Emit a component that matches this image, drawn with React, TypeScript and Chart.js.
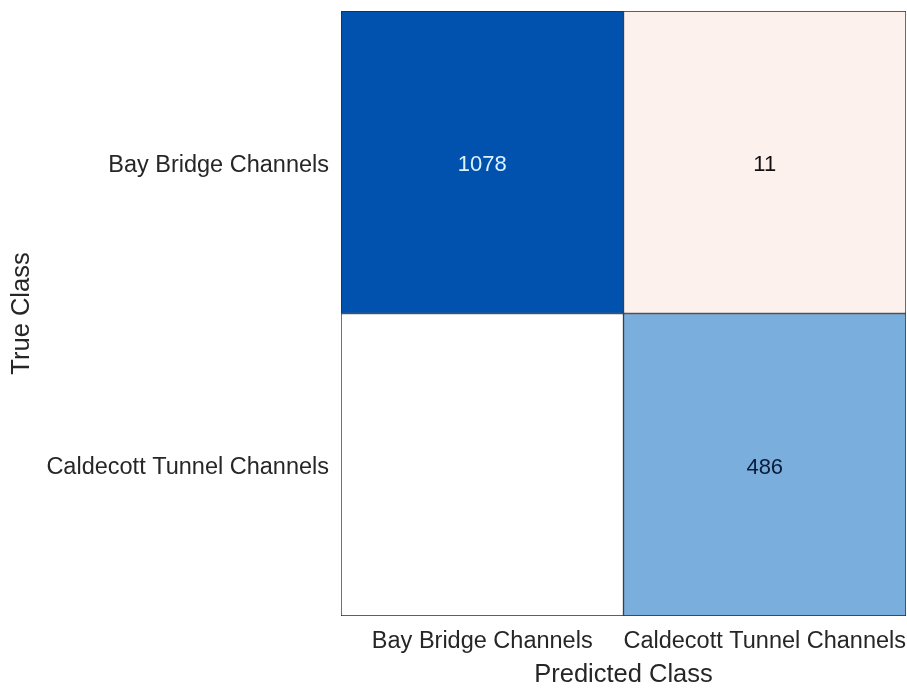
import React, { useEffect, useRef } from "react";
import { Chart, registerables } from "chart.js";

Chart.register(...registerables);

const predictedClasses = ["Bay Bridge Channels", "Caldecott Tunnel Channels"];
const trueClasses = ["Bay Bridge Channels", "Caldecott Tunnel Channels"];
const rowBayBridge = [1078, 11];
const rowCaldecott = [0, 486];
const rowBayBridgeColors = ["#0052AE", "#FDF1EE"];
const rowCaldecottColors = ["#FFFFFF", "#7AAEDC"];
const rowBayBridgeTextColors = ["#DDF2FF", "#111111"];
const rowCaldecottTextColors = ["#111111", "#0B1B3A"];

const FONT = "'Liberation Sans', Arial, Helvetica, sans-serif";

export default function App() {
  const ref = useRef<HTMLCanvasElement | null>(null);

  useEffect(() => {
    document.body.style.margin = "0";
    const canvas = ref.current;
    if (!canvas) return;

    const rows = [rowBayBridge, rowCaldecott];
    const rowColors = [rowBayBridgeColors, rowCaldecottColors];
    const rowText = [rowBayBridgeTextColors, rowCaldecottTextColors];

    const datasets = rows.map((vals, r) => ({
      label: trueClasses[r],
      data: vals.map(() => [r, r + 1] as [number, number]),
      counts: vals,
      textColors: rowText[r],
      backgroundColor: rowColors[r],
      borderColor: "#2A2A2A",
      borderWidth: 1,
      borderSkipped: false as const,
      grouped: false,
      barPercentage: 1,
      categoryPercentage: 1,
    }));

    const valueLabels = {
      id: "valueLabels",
      afterDatasetsDraw(chart: any) {
        const ctx = chart.ctx;
        ctx.save();
        ctx.font = `22px ${FONT}`;
        ctx.textAlign = "center";
        ctx.textBaseline = "middle";
        chart.data.datasets.forEach((ds: any, di: number) => {
          const meta = chart.getDatasetMeta(di);
          meta.data.forEach((el: any, i: number) => {
            const v = ds.counts[i];
            if (!v) return;
            const p = el.getCenterPoint();
            ctx.fillStyle = ds.textColors[i];
            ctx.fillText(String(v), p.x, p.y + 3);
          });
        });
        ctx.restore();
      },
    };

    const chart = new Chart(canvas, {
      type: "bar",
      data: { labels: predictedClasses, datasets: datasets as any },
      plugins: [valueLabels],
      options: {
        responsive: false,
        animation: false,
        layout: { padding: { top: 11, right: 1, left: 0, bottom: 0 } },
        plugins: { legend: { display: false }, tooltip: { enabled: false }, title: { display: false } },
        scales: {
          x: {
            type: "category",
            offset: true,
            grid: { display: false, drawTicks: false },
            border: { display: false },
            ticks: { color: "#262626", font: { family: FONT, size: 23.5 }, padding: 11, maxRotation: 0, autoSkip: false },
            title: { display: true, text: "Predicted Class", color: "#262626", font: { family: FONT, size: 25.5, lineHeight: 1.0 }, padding: { top: 0, bottom: 1 } },
            afterFit(scale: any) {
              scale.height = 73;
              scale.paddingLeft = 0;
              scale.paddingRight = 0;
            },
          },
          y: {
            type: "linear",
            min: 0,
            max: 2,
            reverse: true,
            grid: { display: false, drawTicks: false },
            border: { display: false },
            afterBuildTicks(scale: any) { scale.ticks = [{ value: 0.5 }, { value: 1.5 }]; },
            ticks: {
              color: "#262626",
              font: { family: FONT, size: 23.5 },
              padding: 12,
              labelOffset: 3,
              callback: (_v: any, i: number) => trueClasses[i],
            },
            title: { display: true, text: "True Class", color: "#262626", font: { family: FONT, size: 25.5, lineHeight: 1.2 }, padding: { top: 7, bottom: 0 } },
            afterFit(scale: any) {
              scale.width = 341;
              scale.paddingTop = 0;
              scale.paddingBottom = 0;
            },
          },
        },
      } as any,
    });
    return () => chart.destroy();
  }, []);

  return (
    <div style={{ position: "absolute", left: 0, top: 0, width: 907, height: 689, background: "#fff" }}>
      <canvas ref={ref} width={907} height={689} />
    </div>
  );
}
